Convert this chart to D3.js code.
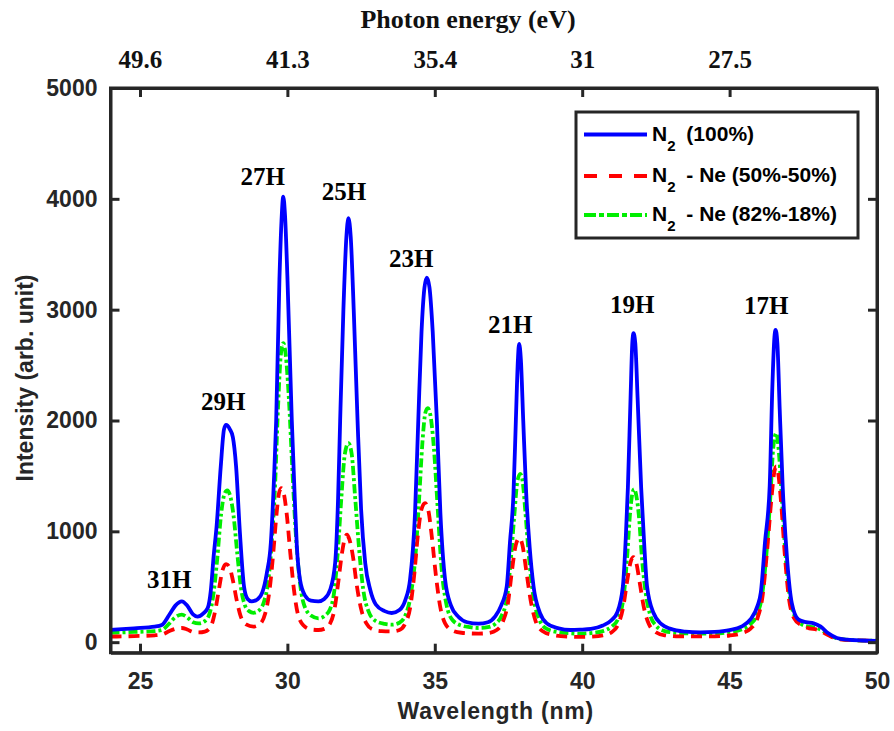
<!DOCTYPE html>
<html>
<head>
<meta charset="utf-8">
<script src="https://cdn.jsdelivr.net/npm/d3@7"></script>
<style>
  body { margin: 0; background: #fff; }
  svg { display: block; }
</style>
</head>
<body>
<div id="chart"></div>
<script>
// N2 (100%) : [wavelength nm, intensity]
const n2Pure = [
  [24.0,110],[24.8,125],[25.5,140],[25.74,155],[26.0,250],[26.2,330],[26.42,368],[26.6,330],[26.8,250],[26.95,230],
  [27.15,260],[27.3,310],[27.4,460],[27.5,780],[27.6,1050],[27.74,1585],[27.85,1920],[27.92,1960],[28.05,1920],[28.15,1850],
  [28.26,1585],[28.39,985],[28.53,500],[28.65,390],[28.79,368],[29.0,390],[29.15,450],[29.3,620],[29.44,900],[29.55,1500],
  [29.62,2000],[29.73,3270],[29.8,3800],[29.86,4020],[29.92,3850],[30.0,3300],[30.15,2000],[30.25,1300],[30.32,870],[30.43,560],
  [30.6,420],[30.8,375],[31.05,368],[31.25,390],[31.45,473],[31.62,714],[31.72,1300],[31.79,2000],[31.9,3000],[32.0,3650],
  [32.07,3825],[32.15,3650],[32.25,3000],[32.38,2000],[32.5,1200],[32.64,714],[32.81,473],[33.0,340],[33.3,280],[33.54,263],
  [33.8,290],[34.0,380],[34.16,563],[34.33,1165],[34.44,2000],[34.55,2800],[34.65,3200],[34.73,3290],[34.82,3200],[34.93,2800],
  [35.07,2000],[35.19,1165],[35.35,563],[35.55,330],[35.8,230],[36.1,180],[36.48,167],[36.8,180],[37.05,233],[37.25,330],
  [37.44,503],[37.55,900],[37.67,1346],[37.75,2000],[37.82,2550],[37.86,2692],[37.92,2550],[38.0,2000],[38.1,1346],[38.22,850],
  [38.35,503],[38.57,263],[38.8,170],[39.2,125],[39.6,110],[39.93,113],[40.3,120],[40.7,150],[41.0,200],[41.18,263],
  [41.38,503],[41.48,950],[41.55,1394],[41.64,2200],[41.7,2700],[41.74,2788],[41.8,2700],[41.88,2200],[42.0,1394],[42.1,900],
  [42.2,503],[42.42,263],[42.7,160],[43.0,120],[43.5,95],[44.0,88],[44.5,92],[45.0,108],[45.4,140],[45.7,203],
  [45.95,330],[46.06,450],[46.2,900],[46.36,1409],[46.45,2300],[46.52,2750],[46.56,2818],[46.62,2700],[46.7,2100],[46.8,1409],
  [46.95,750],[47.11,353],[47.34,203],[47.6,180],[47.85,170],[48.08,142],[48.35,80],[48.64,38],[49.0,22],[49.5,15],[50.0,12]
];

// N2 - Ne (50%-50%)
const n2Ne5050 = [
  [24.0,50],[24.8,55],[25.5,62],[25.75,70],[26.0,100],[26.2,120],[26.42,128],[26.6,115],[26.8,92],[27.0,88],
  [27.2,95],[27.4,140],[27.55,280],[27.68,480],[27.8,650],[27.92,705],[28.03,680],[28.15,560],[28.28,380],[28.42,230],
  [28.6,160],[28.85,140],[29.05,160],[29.25,260],[29.4,480],[29.52,800],[29.63,1150],[29.72,1350],[29.8,1390],[29.88,1340],
  [29.98,1150],[30.1,800],[30.22,480],[30.35,260],[30.55,150],[30.8,115],[31.05,110],[31.25,120],[31.45,170],[31.6,300],
  [31.73,550],[31.85,800],[31.95,940],[32.02,969],[32.1,930],[32.22,780],[32.35,520],[32.5,300],[32.68,170],[32.9,115],
  [33.2,100],[33.55,98],[33.8,110],[34.0,170],[34.17,320],[34.3,600],[34.42,950],[34.55,1200],[34.67,1255],[34.78,1190],
  [34.9,950],[35.03,620],[35.17,340],[35.35,170],[35.6,105],[35.9,85],[36.48,77],[36.8,82],[37.1,110],[37.3,180],
  [37.48,350],[37.62,650],[37.75,880],[37.87,939],[37.97,880],[38.1,650],[38.25,380],[38.42,190],[38.65,100],[39.0,65],
  [39.5,50],[39.93,47],[40.3,50],[40.7,62],[41.0,90],[41.22,160],[41.4,330],[41.53,560],[41.65,730],[41.74,768],
  [41.83,720],[41.95,540],[42.08,330],[42.25,170],[42.5,90],[42.8,62],[43.3,52],[44.0,52],[44.5,53],[45.0,60],
  [45.4,80],[45.7,120],[45.95,220],[46.12,420],[46.28,850],[46.42,1300],[46.52,1540],[46.58,1585],[46.65,1520],[46.75,1250],
  [46.87,800],[47.0,420],[47.18,220],[47.45,150],[47.7,125],[47.96,113],[48.2,85],[48.45,50],[48.7,28],[49.2,17],[50.0,13]
];

// N2 - Ne (82%-18%)
const n2Ne8218 = [
  [24.0,85],[24.8,92],[25.5,100],[25.75,110],[26.0,170],[26.2,225],[26.42,248],[26.6,225],[26.8,180],[27.0,170],
  [27.2,190],[27.35,250],[27.5,450],[27.62,750],[27.75,1150],[27.87,1340],[27.96,1369],[28.05,1330],[28.17,1150],[28.3,800],
  [28.42,500],[28.55,340],[28.7,280],[28.85,265],[29.05,290],[29.2,360],[29.35,550],[29.47,900],[29.58,1400],[29.68,2100],
  [29.78,2600],[29.86,2698],[29.94,2600],[30.05,2200],[30.17,1550],[30.28,1000],[30.4,600],[30.55,350],[30.8,240],[31.05,215],
  [31.25,235],[31.45,300],[31.6,480],[31.72,850],[31.83,1300],[31.95,1700],[32.07,1796],[32.18,1700],[32.3,1300],[32.43,850],
  [32.57,480],[32.75,280],[33.0,190],[33.3,165],[33.55,158],[33.8,175],[34.0,240],[34.2,450],[34.35,800],[34.47,1300],
  [34.58,1800],[34.68,2070],[34.76,2112],[34.85,2050],[34.97,1750],[35.1,1200],[35.22,700],[35.38,360],[35.6,200],[35.9,150],
  [36.2,135],[36.48,128],[36.8,135],[37.05,165],[37.27,240],[37.45,400],[37.58,750],[37.7,1150],[37.8,1450],[37.9,1519],
  [37.98,1450],[38.08,1150],[38.2,750],[38.35,400],[38.57,190],[38.8,120],[39.2,90],[39.6,80],[39.93,77],[40.3,82],
  [40.7,100],[41.0,140],[41.2,200],[41.4,400],[41.52,750],[41.62,1150],[41.7,1340],[41.76,1381],[41.83,1330],[41.92,1150],
  [42.03,750],[42.15,450],[42.3,250],[42.5,150],[42.8,100],[43.3,82],[44.0,77],[44.5,78],[45.0,90],[45.4,115],
  [45.7,160],[45.95,260],[46.1,420],[46.25,800],[46.38,1300],[46.48,1750],[46.58,1886],[46.66,1750],[46.76,1350],[46.88,850],
  [47.02,450],[47.2,240],[47.45,160],[47.7,140],[47.96,128],[48.2,95],[48.45,55],[48.7,30],[49.2,18],[50.0,13]
];

const xTicks = [25, 30, 35, 40, 45, 50];
const yTicks = [0, 1000, 2000, 3000, 4000, 5000];
const energyTicksNm = [25, 30, 35, 40, 45];
const energyLabels = ["49.6", "41.3", "35.4", "31", "27.5"];

// harmonic order labels: [text, wavelength, intensity]
const harmonics = [
  ["31H", 25.99, 490], ["29H", 27.82, 2097], ["27H", 29.16, 4125], ["25H", 31.92, 3990],
  ["23H", 34.2, 3383], ["21H", 37.56, 2791], ["19H", 41.7, 2971], ["17H", 46.24, 2960]
];

const seriesNames = ["N2 (100%)", "N2 - Ne (50%-50%)", "N2 - Ne (82%-18%)"];

let screen = {width: 894, height: 731};
let margin = {top: 88, right: 17, bottom: 78.3, left: 110.5};
let axisColor = "#262626";
let sans = "'Liberation Sans', Arial, sans-serif";
let serif = "'Liberation Serif', 'Times New Roman', serif";

let series = [
  {data: n2Pure, color: "#0000ff", dash: null},
  {data: n2Ne5050, color: "#ff0000", dash: "11,7"},
  {data: n2Ne8218, color: "#00ee00", dash: "9,3,3,3"}
];

let xScale = d3.scaleLinear()
  .domain([24, 50])
  .range([margin.left, screen.width - margin.right]);
let yScale = d3.scaleLinear()
  .domain([-95, 5000])
  .range([screen.height - margin.bottom, margin.top]);

let svg = d3.select("#chart")
  .append("svg")
  .attr("width", screen.width)
  .attr("height", screen.height);

svg.append("defs").append("clipPath")
  .attr("id", "plotClip")
  .append("rect")
  .attr("x", xScale(24))
  .attr("y", yScale(5000))
  .attr("width", xScale(50) - xScale(24))
  .attr("height", yScale(-95) - yScale(5000));

let line = d3.line()
  .x(d => xScale(d[0]))
  .y(d => yScale(d[1]))
  .curve(d3.curveMonotoneX);

let plot = svg.append("g").attr("clip-path", "url(#plotClip)");

// green first, then red, blue on top
[series[2], series[1], series[0]].forEach(function(s) {
  plot.append("path")
    .datum(s.data)
    .attr("fill", "none")
    .attr("stroke", s.color)
    .attr("stroke-width", 3.8)
    .attr("stroke-dasharray", s.dash)
    .attr("stroke-linejoin", "round")
    .attr("d", line);
});

// axes, MATLAB style (ticks inward, box)
let bottomAxis = svg.append("g")
  .attr("transform", "translate(0," + yScale(-95) + ")")
  .call(d3.axisBottom(xScale).tickValues(xTicks).tickSizeInner(-9).tickSizeOuter(0).tickPadding(20));
let topAxis = svg.append("g")
  .attr("transform", "translate(0," + yScale(5000) + ")")
  .call(d3.axisTop(xScale).tickValues(energyTicksNm).tickFormat((d, i) => energyLabels[i])
    .tickSizeInner(-9).tickSizeOuter(0).tickPadding(20));
let leftAxis = svg.append("g")
  .attr("transform", "translate(" + xScale(24) + ",0)")
  .call(d3.axisLeft(yScale).tickValues(yTicks).tickFormat(d3.format("d")).tickSizeInner(-9).tickSizeOuter(0).tickPadding(13));
let rightAxis = svg.append("g")
  .attr("transform", "translate(" + xScale(50) + ",0)")
  .call(d3.axisRight(yScale).tickValues(yTicks).tickFormat("").tickSizeInner(-9).tickSizeOuter(0));

[bottomAxis, topAxis, leftAxis, rightAxis].forEach(function(ax) {
  ax.select(".domain").attr("stroke", axisColor).attr("stroke-width", 3);
  ax.selectAll(".tick line").attr("stroke", axisColor).attr("stroke-width", 3);
});
[bottomAxis, leftAxis].forEach(function(ax) {
  ax.selectAll(".tick text")
    .attr("fill", axisColor)
    .style("font-family", sans)
    .style("font-weight", "bold")
    .style("font-size", "23px");
});
topAxis.selectAll(".tick text")
  .attr("fill", "#111")
  .style("font-family", serif)
  .style("font-weight", "bold")
  .style("font-size", "25px");
bottomAxis.selectAll(".tick").filter(d => d === 50).select("line").remove();

// box
svg.append("rect")
  .attr("x", xScale(24))
  .attr("y", yScale(5000))
  .attr("width", xScale(50) - xScale(24))
  .attr("height", yScale(-95) - yScale(5000))
  .attr("fill", "none")
  .attr("stroke", axisColor)
  .attr("stroke-width", 3);

// axis titles
svg.append("text")
  .attr("x", (xScale(24) + xScale(50)) / 2 + 2)
  .attr("y", 719)
  .attr("text-anchor", "middle")
  .attr("fill", axisColor)
  .style("font-family", sans)
  .style("font-weight", "bold")
  .style("font-size", "23px")
  .style("letter-spacing", "0.8px")
  .text("Wavelength (nm)");

svg.append("text")
  .attr("transform", "translate(33,378) rotate(-90)")
  .attr("text-anchor", "middle")
  .attr("fill", axisColor)
  .style("font-family", sans)
  .style("font-weight", "bold")
  .style("font-size", "23px")
  .text("Intensity (arb. unit)");

svg.append("text")
  .attr("x", 468)
  .attr("y", 28)
  .attr("text-anchor", "middle")
  .attr("fill", "#111")
  .style("font-family", serif)
  .style("font-weight", "bold")
  .style("font-size", "26px")
  .text("Photon energy (eV)");

// harmonic labels
svg.selectAll(".harm")
  .data(harmonics)
  .enter()
  .append("text")
  .attr("class", "harm")
  .attr("x", d => xScale(d[1]))
  .attr("y", d => yScale(d[2]))
  .attr("text-anchor", "middle")
  .attr("fill", "#000")
  .style("font-family", serif)
  .style("font-weight", "bold")
  .style("font-size", "25px")
  .text(d => d[0]);

// legend
let legend = svg.append("g").attr("transform", "translate(576,112)");
legend.append("rect")
  .attr("width", 282)
  .attr("height", 126)
  .attr("fill", "#fff")
  .attr("stroke", axisColor)
  .attr("stroke-width", 3);

let rowY = [22.5, 64, 103];
series.forEach(function(s, i) {
  legend.append("line")
    .attr("x1", 8).attr("x2", 71)
    .attr("y1", rowY[i]).attr("y2", rowY[i])
    .attr("stroke", s.color)
    .attr("stroke-width", 3.8)
    .attr("stroke-dasharray", i === 1 ? "13,12" : i === 2 ? "12,3,5,3" : null);
  let parts = seriesNames[i].split("2");
  let t = legend.append("text")
    .attr("x", 76)
    .attr("y", rowY[i] + 6)
    .attr("fill", "#000")
    .style("font-family", sans)
    .style("font-weight", "bold")
    .style("font-size", "21px");
  t.append("tspan").text(parts[0]);
  t.append("tspan").attr("dy", 10).style("font-size", "15px").text("2");
  t.append("tspan").attr("dy", -10).attr("dx", 5).text(seriesNames[i].slice(2));
});
</script>
</body>
</html>
